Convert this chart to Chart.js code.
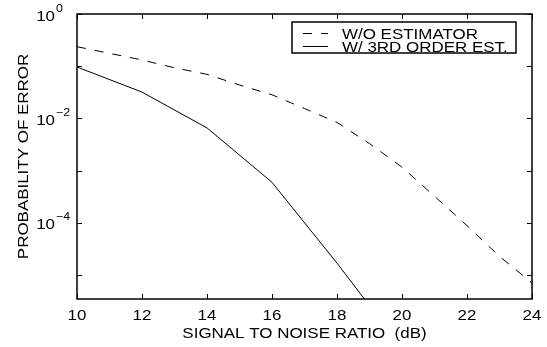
<!DOCTYPE html>
<html>
<head>
<meta charset="utf-8">
<script src="https://cdn.jsdelivr.net/npm/chart.js@4/dist/chart.umd.min.js"></script>
<style>
  html, body { margin: 0; padding: 0; background: #fff; }
  canvas { display: block; }
</style>
</head>
<body>
<canvas id="chart" width="547" height="347"></canvas>
<script>
// data
var snrNoEst = [10, 11, 12, 13, 14, 15, 16, 17, 18, 19, 20, 21, 22, 23, 24];
var perNoEst = [0.2366, 0.1766, 0.1318, 0.0933, 0.0700, 0.0437, 0.0284, 0.0155, 0.00841,
  0.00331, 0.00117, 3.24e-4, 8.9e-5, 2.29e-5, 7.1e-6];
var snrEst3 = [10, 12, 14, 16, 18, 20];
var perEst3 = [0.0966, 0.032, 0.0066, 6.0e-4, 1.7e-5, 4e-7];

var xTicks = [10, 12, 14, 16, 18, 20, 22, 24];
var yTicks = [1, 1e-1, 1e-2, 1e-3, 1e-4, 1e-5];
var yLabelExp = [0, -2, -4];
var seriesNames = ["W/O ESTIMATOR", "W/ 3RD ORDER EST."];
var xTitle = "SIGNAL TO NOISE RATIO  (dB)";
var yTitle = "PROBABILITY OF ERROR";

var FONT = "'Liberation Sans', Arial, Helvetica, sans-serif";
var SX = 1.13; // text in the figure is a bit wider than tall

function pts(xs, ys) {
  return xs.map(function (x, i) { return { x: x, y: ys[i] }; });
}

function text(ctx, s, x, y, size, align) {
  ctx.save();
  ctx.font = size + "px " + FONT;
  var w = ctx.measureText(s).width * SX;
  var x0 = x;
  if (align === "center") x0 = x - w / 2;
  else if (align === "right") x0 = x - w;
  ctx.translate(x0, y);
  ctx.scale(SX, 1);
  ctx.textAlign = "left";
  ctx.textBaseline = "alphabetic";
  ctx.fillText(s, 0, 0);
  ctx.restore();
  return w;
}

var frame = {
  id: "frame",
  afterDraw: function (chart) {
    var ctx = chart.ctx;
    var a = chart.chartArea;
    var xs = chart.scales.x, ys = chart.scales.y;
    ctx.save();
    ctx.fillStyle = "#000";
    ctx.strokeStyle = "#000";

    // box
    ctx.lineWidth = 1.5;
    ctx.strokeRect(a.left, a.top, a.right - a.left, a.bottom - a.top);

    // inward ticks
    ctx.lineWidth = 1;
    ctx.beginPath();
    xTicks.forEach(function (v) {
      var px = Math.round(xs.getPixelForValue(v)) + 0.5;
      ctx.moveTo(px, a.bottom); ctx.lineTo(px, a.bottom - 5);
      ctx.moveTo(px, a.top); ctx.lineTo(px, a.top + 5);
    });
    yTicks.forEach(function (v) {
      var py = Math.round(ys.getPixelForValue(v)) + 0.5;
      ctx.moveTo(a.left, py); ctx.lineTo(a.left + 5, py);
      ctx.moveTo(a.right, py); ctx.lineTo(a.right - 5, py);
    });
    ctx.stroke();

    // x tick labels
    xTicks.forEach(function (v) {
      text(ctx, String(v), xs.getPixelForValue(v), a.bottom + 21, 15, "center");
    });

    // y tick labels 10^n
    yLabelExp.forEach(function (e) {
      var py = ys.getPixelForValue(Math.pow(10, e));
      text(ctx, "10", 55, py + 6.5, 15, "right");
      var ex = e < 0 ? "\u2212" + (-e) : String(e);
      text(ctx, ex, 56, py - 2.5, 11, "left");
    });

    // axis titles
    text(ctx, xTitle, (a.left + a.right) / 2, a.bottom + 39, 15, "center");
    ctx.save();
    ctx.translate(28, (a.top + a.bottom) / 2);
    ctx.rotate(-Math.PI / 2);
    text(ctx, yTitle, 0, 0, 15, "center");
    ctx.restore();

    // legend
    var bx = 292, by = 22, bw = 224, bh = 31;
    ctx.fillStyle = "#fff";
    ctx.fillRect(bx, by, bw, bh);
    ctx.lineWidth = 1.5;
    ctx.strokeRect(bx, by, bw, bh);
    ctx.fillStyle = "#000";
    var rows = [by + 11.5, by + 24.5];
    chart.data.datasets.forEach(function (ds, i) {
      ctx.beginPath();
      ctx.lineWidth = 1;
      ctx.setLineDash(ds.borderDash || []);
      ctx.moveTo(303, rows[i]);
      ctx.lineTo(328, rows[i]);
      ctx.stroke();
      ctx.setLineDash([]);
      text(ctx, ds.label, 342, rows[i] + 5.5, 15, "left");
    });
    ctx.restore();
  }
};

new Chart(document.getElementById("chart"), {
  type: "line",
  data: {
    datasets: [
      {
        label: seriesNames[0],
        data: pts(snrNoEst, perNoEst),
        borderColor: "#000",
        borderWidth: 1,
        borderDash: [9, 9],
        pointRadius: 0,
        tension: 0,
        fill: false
      },
      {
        label: seriesNames[1],
        data: pts(snrEst3, perEst3),
        borderColor: "#000",
        borderWidth: 1,
        pointRadius: 0,
        tension: 0,
        fill: false
      }
    ]
  },
  options: {
    responsive: false,
    devicePixelRatio: 1,
    animation: false,
    layout: { padding: { left: 77, top: 14, right: 15, bottom: 48 } },
    plugins: { legend: { display: false }, tooltip: { enabled: false } },
    scales: {
      x: { type: "linear", min: 10, max: 24, display: false },
      y: { type: "logarithmic", min: 3.5e-6, max: 1, display: false }
    }
  },
  plugins: [frame]
});
</script>
</body>
</html>
